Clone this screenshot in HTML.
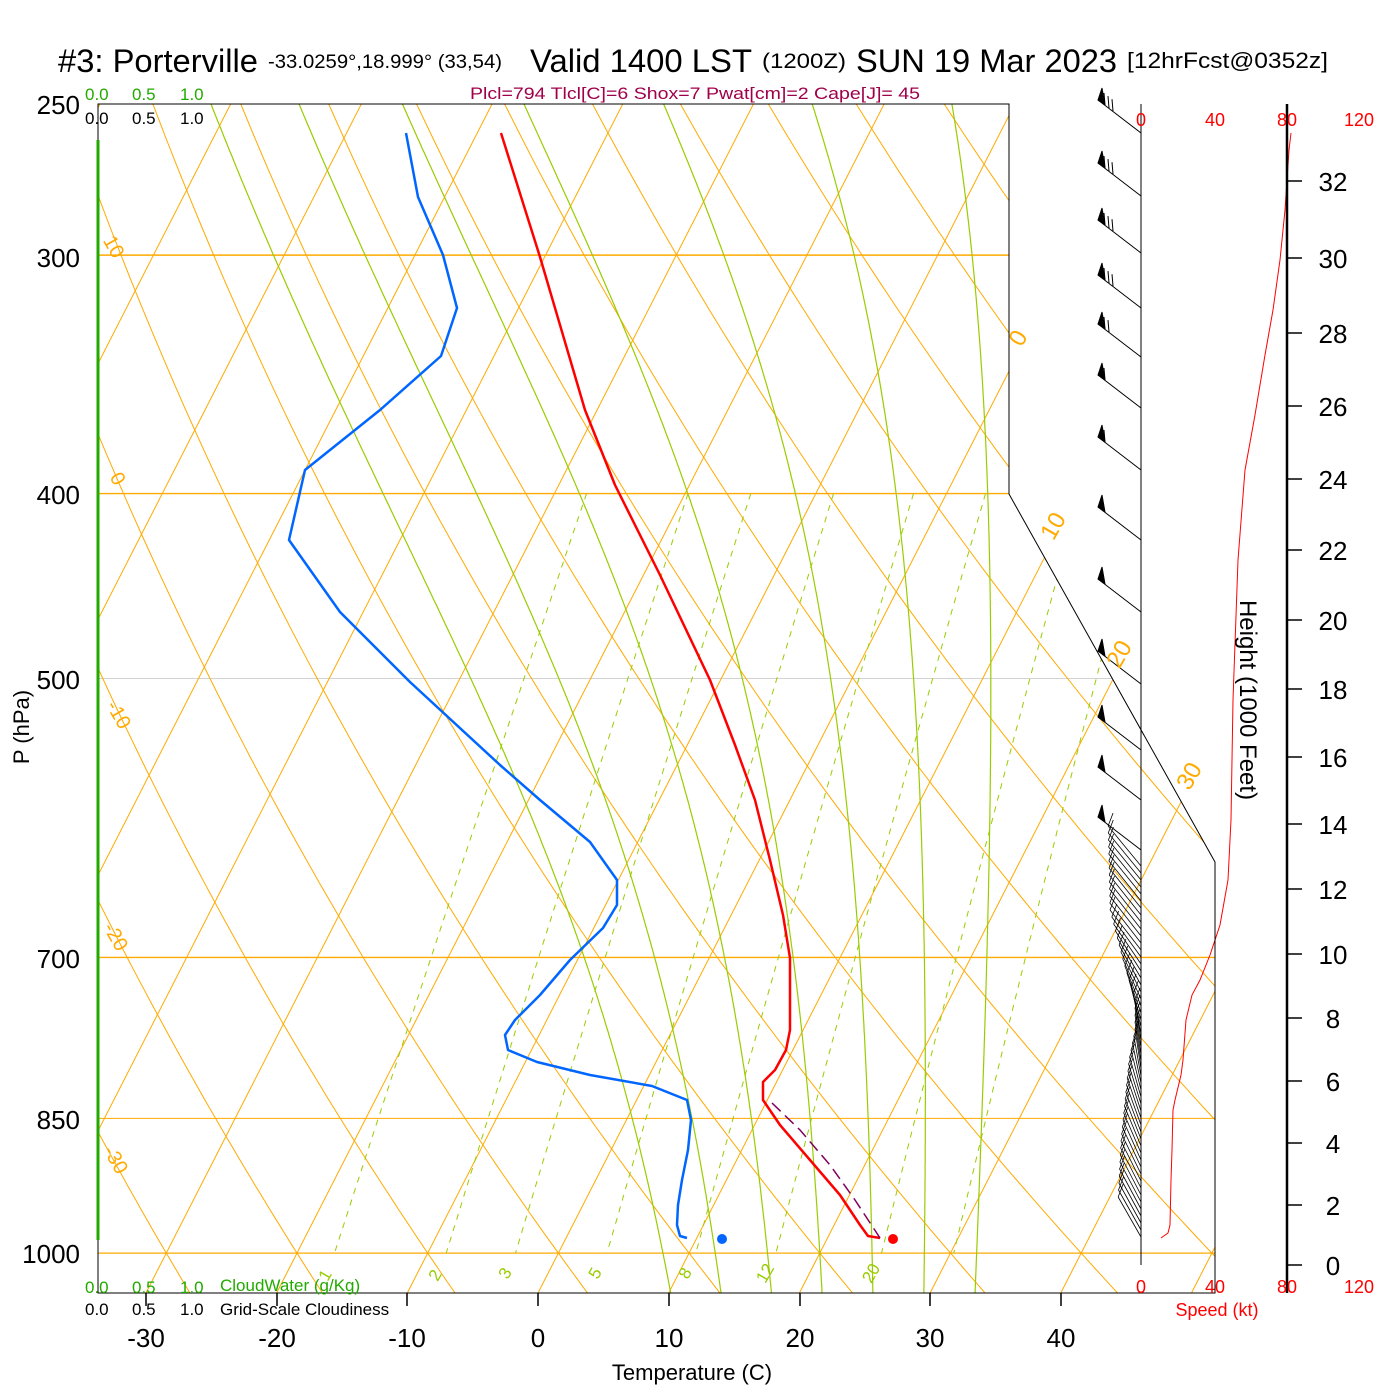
<!DOCTYPE html>
<html><head><meta charset="utf-8">
<style>
html,body{margin:0;padding:0;background:#fff;}
svg{display:block;font-family:"Liberation Sans",sans-serif;}
</style></head>
<body>
<svg id="c" xmlns="http://www.w3.org/2000/svg" width="1400" height="1400" viewBox="0 0 1400 1400">
<rect width="1400" height="1400" fill="#fff"/>
<defs>
<clipPath id="pc"><polygon points="98,104 1009,104 1009,494 1215,862 1215,1293 98,1293"/></clipPath>
</defs>
<g id="bg" clip-path="url(#pc)" fill="none"></g>
<g id="fg" fill="none"></g>
<g stroke="#000" stroke-width="1" fill="none">
<polyline points="98,140 98,104 1009,104 1009,494 1215,862 1215,1293 98,1293 98,1240"/>
<line x1="1141" y1="104" x2="1141" y2="1265"/>
</g>
<line x1="98" y1="140" x2="98" y2="1240" stroke="#22aa00" stroke-width="3"/>
<line x1="1287" y1="104" x2="1287" y2="1293" stroke="#000" stroke-width="2.5"/>
<g id="ticks" stroke="#000" stroke-width="1.5"></g>

<g fill="#000">
<text x="58" y="72" font-size="32" textLength="200" lengthAdjust="spacingAndGlyphs">#3: Porterville</text>
<text x="268" y="68" font-size="19" textLength="234" lengthAdjust="spacingAndGlyphs">-33.0259°,18.999° (33,54)</text>
<text x="530" y="72" font-size="32" textLength="222" lengthAdjust="spacingAndGlyphs">Valid 1400 LST</text>
<text x="762" y="68" font-size="21" textLength="84" lengthAdjust="spacingAndGlyphs">(1200Z)</text>
<text x="856" y="72" font-size="32" textLength="261" lengthAdjust="spacingAndGlyphs">SUN 19 Mar 2023</text>
<text x="1127" y="68" font-size="22" textLength="201" lengthAdjust="spacingAndGlyphs">[12hrFcst@0352z]</text>
</g>
<text x="470" y="99" font-size="17" fill="#a0004a" textLength="450" lengthAdjust="spacingAndGlyphs">Plcl=794 Tlcl[C]=6 Shox=7 Pwat[cm]=2 Cape[J]= 45</text>
<g font-size="17" fill="#22aa00">
<text x="85" y="100">0.0</text><text x="132" y="100">0.5</text><text x="180" y="100">1.0</text>
<text x="85" y="1293">0.0</text><text x="132" y="1293">0.5</text><text x="180" y="1293">1.0</text>
<text x="220" y="1291">CloudWater (g/Kg)</text>
</g>
<g font-size="17" fill="#000">
<text x="85" y="124">0.0</text><text x="132" y="124">0.5</text><text x="180" y="124">1.0</text>
<text x="85" y="1315">0.0</text><text x="132" y="1315">0.5</text><text x="180" y="1315">1.0</text>
<text x="220" y="1315">Grid-Scale Cloudiness</text>
</g>
<g font-size="26" fill="#000" text-anchor="end">
<text x="80" y="114">250</text><text x="80" y="267">300</text><text x="80" y="504">400</text>
<text x="80" y="689">500</text><text x="80" y="968">700</text><text x="80" y="1129">850</text>
<text x="80" y="1263">1000</text>
</g>
<text transform="translate(29,727) rotate(-90)" font-size="22" text-anchor="middle">P (hPa)</text>
<g font-size="26" fill="#000" text-anchor="middle">
<text x="146" y="1347">-30</text><text x="277" y="1347">-20</text><text x="407" y="1347">-10</text>
<text x="538" y="1347">0</text><text x="669" y="1347">10</text><text x="800" y="1347">20</text>
<text x="930" y="1347">30</text><text x="1061" y="1347">40</text>
</g>
<text x="692" y="1380" font-size="22" text-anchor="middle">Temperature (C)</text>
<g font-size="18" fill="#ff0000" text-anchor="middle">
<text x="1141" y="126">0</text><text x="1215" y="126">40</text><text x="1287" y="126">80</text><text x="1359" y="126">120</text>
<text x="1141" y="1293">0</text><text x="1215" y="1293">40</text><text x="1287" y="1293">80</text><text x="1359" y="1293">120</text>
<text x="1217" y="1316">Speed (kt)</text>
</g>
<text transform="translate(1240,700) rotate(90)" font-size="24" text-anchor="middle">Height (1000 Feet)</text>
<g id="hl" font-size="26" fill="#000" text-anchor="middle"></g>
</svg>
<script>
(function(){
var NS="http://www.w3.org/2000/svg";
function el(parent,tag,attrs,txt){var e=document.createElementNS(NS,tag);for(var k in attrs)e.setAttribute(k,attrs[k]);if(txt!==undefined)e.textContent=txt;parent.appendChild(e);return e;}
var L250=Math.log(250);
function Y(p){return 104+828.9*(Math.log(p)-L250);}
function X(T,p){return 538+13.07*T+0.511*(1293-Y(p));}
var bg=document.getElementById('bg'), fg=document.getElementById('fg');
function pl(parent,pts,attrs){var s=pts.map(function(a){return a[0].toFixed(1)+','+a[1].toFixed(1)}).join(' ');attrs.points=s;return el(parent,'polyline',attrs);}
var OR="#ffaa00", GR="#99cc00";
[[300,1.4],[400,1.4],[500,0.8],[700,1.4],[850,1],[1000,1.2]].forEach(function(a){
 el(bg,'line',{x1:98,x2:1215,y1:Y(a[0]),y2:Y(a[0]),stroke:(a[0]==500?"#cccccc":OR),'stroke-width':a[1]});
});
for(var T=-130;T<=60;T+=10){pl(bg,[[X(T,200),Y(200)],[X(T,1060),Y(1060)]],{stroke:OR,'stroke-width':1});}
for(var th=-50;th<=220;th+=10){var pts=[];for(var p=200;p<=1060;p+=10){var t=(th+273.15)*Math.pow(p/1000,0.286)-273.15;pts.push([X(t,p),Y(p)]);}pl(bg,pts,{stroke:OR,'stroke-width':1});}
function es(T){return 6.112*Math.exp(17.67*(T-273.15)/(T-29.65));}
function dTdp(T,p){var e=es(T),rs=0.622*e/(p-e);var Rd=287,Cp=1005,Lv=2.5e6;return (Rd*T+Lv*rs)/(p*(Cp+Lv*Lv*rs*0.622/(Rd*T*T)));}
for(var tw=8;tw<=32;tw+=4){var up=[],T0=tw+273.15,T1=T0,p;
 for(p=1000;p>=200;p-=2){up.push([X(T1-273.15,p),Y(p)]);T1-=2*dTdp(T1,p);}
 var dn=[];T1=T0;for(p=1000;p<=1060;p+=2){dn.push([X(T1-273.15,p),Y(p)]);T1+=2*dTdp(T1,p);}
 pl(bg,dn.reverse().concat(up),{stroke:GR,'stroke-width':1.2});}
[1,2,3,5,8,12,20,28].forEach(function(w){var pts=[];for(var p=400;p<=1000;p+=10){var e=w*p/(622+w),l=Math.log(e/6.112),t=243.5*l/(17.67-l);pts.push([X(t,p),Y(p)]);}
 pl(bg,pts,{stroke:GR,'stroke-width':1,'stroke-dasharray':'6,6'});});
var gl=el(document.getElementById('c'),'g',{'font-size':17,fill:GR});
[[330,1278,"1"],[440,1278,"2"],[510,1276,"3"],[600,1276,"5"],[690,1276,"8"],[770,1276,"12"],[876,1276,"20"]].forEach(function(a){el(gl,'text',{transform:'translate('+a[0]+','+a[1]+') rotate(-60)','text-anchor':'middle'},a[2]);});
var ol=el(document.getElementById('c'),'g',{'font-size':20,fill:OR});
[[108,250,"10"],[112,482,"0"],[113,718,"-10"],[110,940,"-20"],[110,1163,"-30"]].forEach(function(a){el(ol,'text',{transform:'translate('+a[0]+','+a[1]+') rotate(60)','text-anchor':'middle'},a[2]);});
[[1025,342,"0"],[1060,530,"10"],[1126,658,"20"],[1196,780,"30"]].forEach(function(a){el(ol,'text',{transform:'translate('+a[0]+','+a[1]+') rotate(-60)','text-anchor':'middle','font-size':24},a[2]);});
var wb=el(fg,'g',{stroke:'#000','stroke-width':1});
[[133,3],[196,3],[253,3],[308,3],[357,2],[408,1],[470,1],[540,0],[612,0],[684,0],[750,0],[800,0],[850,0]].forEach(function(a){
 var y=a[0],tx=1098,ty=y-33;
 el(wb,'line',{x1:1141,y1:y,x2:tx,y2:ty});
 el(wb,'polygon',{points:tx+','+ty+' '+(tx+4)+','+(ty-12)+' '+(tx+7)+','+(ty+5),fill:'#000'});
 for(var i=0;i<a[1];i++){var bx=tx+7+i*4,by=ty+5+i*3.1;el(wb,'line',{x1:bx,y1:by,x2:bx-1,y2:by-12});}
});
var tb=[[862,-33],[950,-31],[1000,-18],[1040,-6],[1070,-6],[1100,-12],[1180,-20],[1240,-23]];
function interp(y){for(var i=0;i<tb.length-1;i++){if(y<=tb[i+1][0]){var f=(y-tb[i][0])/(tb[i+1][0]-tb[i][0]);return tb[i][1]+f*(tb[i+1][1]-tb[i][1]);}}return tb[tb.length-1][1];}
for(var y=866;y<=1238;y+=7){var dx=interp(y),tx=1141+dx,ty=y-40;el(wb,'line',{x1:1141,y1:y,x2:tx,y2:ty,'stroke-width':0.8});el(wb,'line',{x1:tx,y1:ty,x2:tx+5,y2:ty-13,'stroke-width':0.8});}
pl(fg,[[1161,1238],[1168,1233],[1170,1225],[1171,1180],[1172,1150],[1173,1110],[1175,1100],[1181,1075],[1183,1060],[1186,1020],[1192,995],[1200,980],[1210,955],[1220,925],[1228,880],[1231,820],[1233,700],[1238,560],[1245,470],[1255,415],[1265,355],[1273,310],[1280,260],[1285,210],[1287,180],[1289,150],[1291,133]],{stroke:'#ff0000','stroke-width':1});
pl(fg,[[501,133],[540,257],[585,410],[615,485],[660,575],[710,680],[735,745],[755,800],[770,860],[783,915],[790,958],[790,1030],[786,1050],[775,1070],[763,1082],[763,1100],[780,1125],[810,1160],[840,1195],[860,1225],[868,1236],[880,1238]],{stroke:'#ff0000','stroke-width':2.5,'stroke-linejoin':'round'});
pl(fg,[[772,1103],[800,1130],[830,1165],[855,1200],[880,1238]],{stroke:'#800060','stroke-width':1.5,'stroke-dasharray':'12,6'});
pl(fg,[[406,133],[418,197],[443,255],[457,308],[441,356],[380,410],[305,470],[289,540],[340,612],[410,682],[500,765],[540,800],[590,842],[617,880],[617,905],[603,928],[570,960],[540,995],[515,1020],[505,1035],[508,1050],[537,1062],[590,1075],[652,1086],[687,1100],[691,1120],[688,1150],[682,1180],[678,1205],[677,1225],[680,1236],[687,1238]],{stroke:'#0066ff','stroke-width':2.5,'stroke-linejoin':'round'});
el(fg,'circle',{cx:722,cy:1239,r:5,fill:'#0066ff'});
el(fg,'circle',{cx:893,cy:1239,r:5,fill:'#ff0000'});
var tk=document.getElementById('ticks');
[146,277,407,538,669,800,930,1061].forEach(function(x){el(tk,'line',{x1:x,x2:x,y1:1293,y2:1306});});
var hl=document.getElementById('hl');
[[32,181],[30,258],[28,333],[26,406],[24,479],[22,550],[20,620],[18,689],[16,757],[14,824],[12,889],[10,954],[8,1018],[6,1081],[4,1143],[2,1205],[0,1265]].forEach(function(a){
 el(tk,'line',{x1:1287,x2:1302,y1:a[1],y2:a[1]});
 el(hl,'text',{x:1333,y:a[1]+10},String(a[0]));
});
})();
</script>
</body></html>
